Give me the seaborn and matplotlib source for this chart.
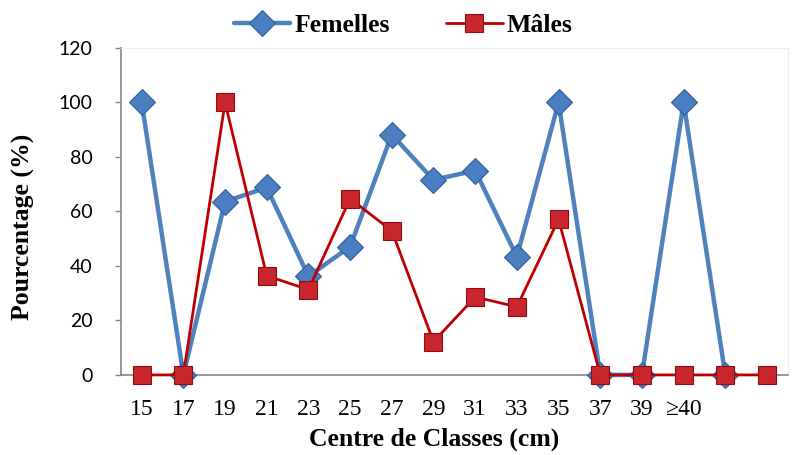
import numpy as np
import pandas as pd
import matplotlib.pyplot as plt
import seaborn as sns

# class centres (two trailing classes have no label on the original)
classes = ["15", "17", "19", "21", "23", "25", "27", "29", "31", "33", "35", "37", "39", "\u226540", "", ""]
femelles = [100, 0, 63.6, 68.8, 36.2, 47.1, 88.2, 71.6, 75.0, 43.4, 100, 0, 0, 100, 0, np.nan]
males = [0, 0, 100, 36.4, 31.3, 64.7, 52.9, 12.2, 28.6, 25.0, 57.1, 0, 0, 0, 0, 0]

SERIF = "Liberation Serif"
BLUE = "#4F81BD"
RED = "#C00000"

pos = np.arange(len(classes))
df_f = pd.DataFrame({"x": pos, "y": femelles}).dropna()
df_m = pd.DataFrame({"x": pos, "y": males})

sns.set_style("white")
plt.rcParams["text.color"] = "black"
plt.rcParams["xtick.color"] = "black"
plt.rcParams["ytick.color"] = "black"
plt.rcParams["axes.labelcolor"] = "black"

fig, ax = plt.subplots(figsize=(7.95, 4.55), dpi=100)
fig.subplots_adjust(left=0.152, right=0.991, bottom=0.176, top=0.8945)

sns.lineplot(data=df_f, x="x", y="y", ax=ax, color=BLUE, lw=3.2, marker="D",
             markersize=13.5, markerfacecolor="#4A7EC0", markeredgecolor="#2F5F9E",
             markeredgewidth=0.8, label="Femelles", clip_on=False, zorder=5)
sns.lineplot(data=df_m, x="x", y="y", ax=ax, color=RED, lw=2.0, marker="s",
             markersize=12.5, markerfacecolor="#C8262C", markeredgecolor="#8E0E12",
             markeredgewidth=0.8, label="M\u00e2les", clip_on=False, zorder=6)

ax.set_xlim(-0.5, len(classes) - 0.5)
ax.set_ylim(0, 120)
ax.set_yticks(range(0, 121, 20))
ax.set_yticklabels([str(v) for v in range(0, 121, 20)], fontsize=14, family="Lato")
ax.set_xticks(pos)
ax.set_xticklabels(classes, fontsize=17, family=SERIF)
ax.set_xticks(np.arange(-0.5, len(classes)), minor=True)
ax.tick_params(axis="x", which="major", length=0, pad=17)
ax.tick_params(axis="x", which="minor", length=4.5, color="#868686", width=1, direction="out")
ax.tick_params(axis="y", length=4.5, color="#868686", width=1, direction="out", left=True, pad=16)

for side in ["left", "bottom"]:
    ax.spines[side].set_color("#868686")
    ax.spines[side].set_linewidth(1.2)
for side in ["top", "right"]:
    ax.spines[side].set_color("#EEEEEE")

ax.set_xlabel("Centre de Classes (cm)", fontsize=18.5, family=SERIF, fontweight="bold")
ax.set_ylabel("Pourcentage (%)", fontsize=18.5, family=SERIF, fontweight="bold")
ax.xaxis.set_label_coords(0.469, -0.162)
ax.yaxis.set_label_coords(-0.129, 0.453)

ax.legend(loc="center", bbox_to_anchor=(0.507, 0.945), bbox_transform=fig.transFigure,
          ncol=2, frameon=False, columnspacing=2.2, handlelength=2.2, handletextpad=0.15,
          prop={"family": SERIF, "weight": "bold", "size": 18.5})

plt.savefig("out.png", dpi=100)
